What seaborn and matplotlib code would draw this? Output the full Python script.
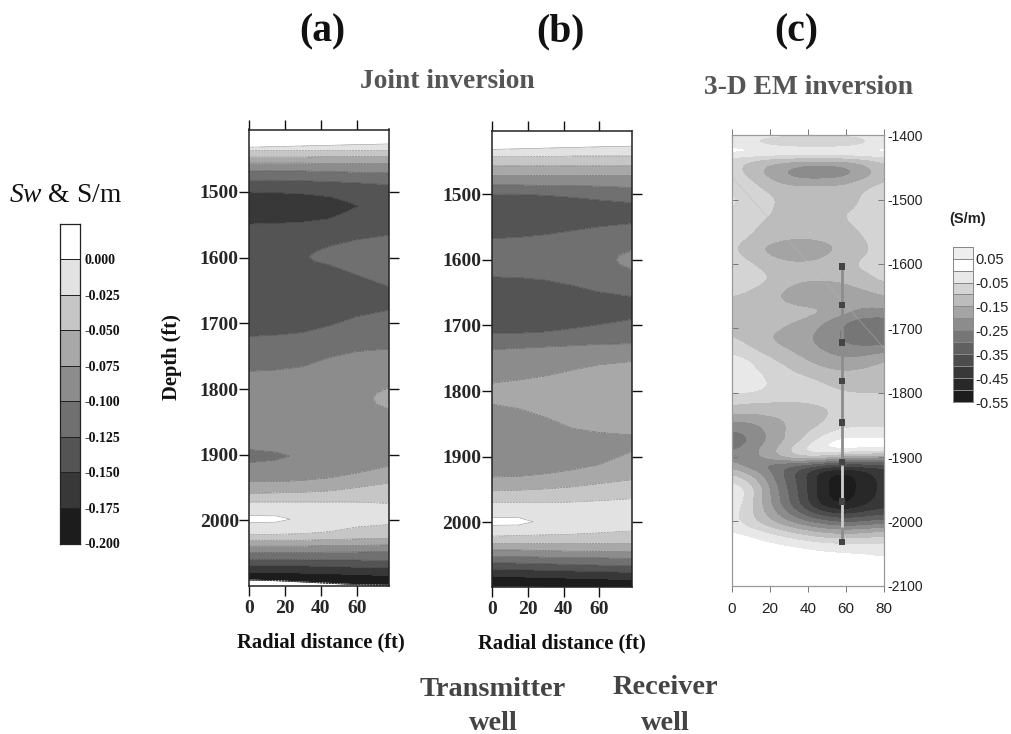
import numpy as np
import matplotlib
matplotlib.use("Agg")
import matplotlib.pyplot as plt
from matplotlib.colors import ListedColormap, BoundaryNorm
import seaborn as sns

# panels (a) and (b): each row is one horizon, depth and value per radial column
radial = [0, 15, 30, 45, 60, 78.4]

depth_a = [
    [1405, 1405, 1405, 1405, 1405, 1405],
    [1432, 1431, 1430, 1429, 1428, 1427],
    [1437, 1437, 1437, 1437, 1437, 1437],
    [1447, 1447, 1447, 1446, 1446, 1446],
    [1456, 1456, 1456, 1457, 1457, 1457],
    [1468, 1468, 1468, 1469, 1470, 1471],
    [1482, 1482, 1483, 1484, 1486, 1489],
    [1500, 1501, 1503, 1507, 1512, 1512],
    [1512, 1512, 1512, 1515, 1516, 1516],
    [1525, 1525, 1525, 1525, 1522, 1522],
    [1537, 1537, 1536, 1533, 1527, 1527],
    [1549, 1548, 1546, 1541, 1533, 1533],
    [1575, 1575, 1580, 1583, 1573, 1566],
    [1590, 1590, 1592, 1590, 1586, 1585],
    [1600, 1600, 1600, 1597, 1600, 1605],
    [1610, 1610, 1607, 1604, 1612, 1625],
    [1625, 1625, 1612, 1611, 1626, 1644],
    [1660, 1660, 1660, 1660, 1660, 1660],
    [1720, 1718, 1714, 1704, 1690, 1680],
    [1773, 1771, 1766, 1752, 1743, 1739],
    [1798, 1798, 1798, 1798, 1798, 1798],
    [1806, 1806, 1806, 1806, 1806, 1806],
    [1815, 1815, 1815, 1815, 1815, 1815],
    [1823, 1823, 1823, 1823, 1823, 1823],
    [1831, 1831, 1831, 1831, 1831, 1831],
    [1892, 1892, 1892, 1892, 1892, 1892],
    [1902, 1902, 1902, 1902, 1902, 1900],
    [1912, 1912, 1912, 1912, 1910, 1908],
    [1941, 1941, 1939, 1935, 1928, 1917],
    [1959, 1958, 1957, 1955, 1950, 1943],
    [1972, 1972, 1972, 1972, 1972, 1974],
    [1988, 1988, 1988, 1988, 1988, 1988],
    [1998, 1998, 1998, 1998, 1998, 1998],
    [2008, 2008, 2008, 2006, 2004, 2002],
    [2021, 2021, 2020, 2017, 2010, 2006],
    [2030, 2030, 2030, 2029, 2028, 2027],
    [2039, 2039, 2039, 2038, 2038, 2037],
    [2049, 2049, 2049, 2048, 2048, 2047],
    [2059, 2059, 2060, 2060, 2060, 2061],
    [2069, 2069, 2069, 2070, 2071, 2072],
    [2079, 2079, 2080, 2081, 2082, 2084],
    [2090, 2091, 2093, 2095, 2097, 2098],
    [2091, 2092, 2094, 2096, 2098, 2099],
    [2100, 2100, 2100, 2100, 2100, 2100],
]
value_a = [
    [0.01, 0.01, 0.01, 0.01, 0.01, 0.01],
    [0, 0, 0, 0, 0, 0],
    [-0.025, -0.025, -0.025, -0.025, -0.025, -0.025],
    [-0.05, -0.05, -0.05, -0.05, -0.05, -0.05],
    [-0.075, -0.075, -0.075, -0.075, -0.075, -0.075],
    [-0.1, -0.1, -0.1, -0.1, -0.1, -0.1],
    [-0.125, -0.125, -0.125, -0.125, -0.125, -0.125],
    [-0.15, -0.15, -0.15, -0.15, -0.143, -0.135],
    [-0.16, -0.16, -0.16, -0.158, -0.147, -0.135],
    [-0.168, -0.168, -0.165, -0.16, -0.151, -0.135],
    [-0.16, -0.16, -0.16, -0.158, -0.147, -0.135],
    [-0.15, -0.15, -0.15, -0.15, -0.143, -0.135],
    [-0.14, -0.14, -0.135, -0.125, -0.125, -0.125],
    [-0.14, -0.14, -0.131, -0.118, -0.114, -0.112],
    [-0.14, -0.14, -0.129, -0.112, -0.11, -0.108],
    [-0.14, -0.14, -0.131, -0.118, -0.114, -0.112],
    [-0.14, -0.14, -0.135, -0.125, -0.125, -0.125],
    [-0.14, -0.14, -0.14, -0.14, -0.14, -0.14],
    [-0.125, -0.125, -0.125, -0.125, -0.125, -0.125],
    [-0.1, -0.1, -0.1, -0.1, -0.1, -0.1],
    [-0.09, -0.09, -0.09, -0.09, -0.09, -0.075],
    [-0.09, -0.09, -0.09, -0.09, -0.089, -0.066],
    [-0.09, -0.09, -0.09, -0.09, -0.088, -0.062],
    [-0.09, -0.09, -0.09, -0.09, -0.089, -0.066],
    [-0.09, -0.09, -0.09, -0.09, -0.09, -0.075],
    [-0.1, -0.096, -0.09, -0.09, -0.09, -0.09],
    [-0.108, -0.106, -0.094, -0.09, -0.09, -0.085],
    [-0.1, -0.096, -0.09, -0.09, -0.088, -0.082],
    [-0.075, -0.075, -0.075, -0.075, -0.075, -0.075],
    [-0.05, -0.05, -0.05, -0.05, -0.05, -0.05],
    [-0.025, -0.025, -0.025, -0.025, -0.025, -0.025],
    [-0.01, -0.01, -0.012, -0.012, -0.012, -0.012],
    [0.012, 0.01, -0.009, -0.012, -0.012, -0.016],
    [-0.012, -0.012, -0.012, -0.014, -0.016, -0.02],
    [-0.025, -0.025, -0.025, -0.025, -0.025, -0.025],
    [-0.05, -0.05, -0.05, -0.05, -0.05, -0.05],
    [-0.075, -0.075, -0.075, -0.075, -0.075, -0.075],
    [-0.1, -0.1, -0.1, -0.1, -0.1, -0.1],
    [-0.125, -0.125, -0.125, -0.125, -0.125, -0.125],
    [-0.15, -0.15, -0.15, -0.15, -0.15, -0.15],
    [-0.175, -0.175, -0.175, -0.175, -0.175, -0.175],
    [-0.199, -0.199, -0.199, -0.199, -0.199, -0.199],
    [0.01, 0.01, 0.01, 0.01, 0.01, 0.01],
    [0.01, 0.01, 0.01, 0.01, 0.01, 0.01],
]

depth_b = [
    [1403, 1403, 1403, 1403, 1403, 1403],
    [1432, 1431, 1430, 1429, 1428, 1427],
    [1443, 1443, 1443, 1442, 1442, 1442],
    [1457, 1457, 1457, 1457, 1457, 1457],
    [1472, 1472, 1472, 1472, 1472, 1472],
    [1486, 1486, 1487, 1487, 1488, 1490],
    [1500, 1500, 1502, 1505, 1509, 1513],
    [1530, 1530, 1530, 1530, 1530, 1530],
    [1568, 1566, 1562, 1556, 1550, 1545],
    [1586, 1586, 1586, 1586, 1586, 1586],
    [1593, 1593, 1593, 1593, 1593, 1593],
    [1600, 1600, 1600, 1600, 1600, 1600],
    [1607, 1607, 1607, 1607, 1607, 1607],
    [1615, 1615, 1615, 1615, 1615, 1615],
    [1626, 1627, 1631, 1639, 1649, 1656],
    [1670, 1670, 1670, 1672, 1674, 1675],
    [1712, 1712, 1710, 1705, 1699, 1691],
    [1737, 1735, 1733, 1731, 1729, 1728],
    [1788, 1783, 1777, 1768, 1760, 1755],
    [1800, 1804, 1808, 1812, 1812, 1812],
    [1820, 1827, 1840, 1857, 1863, 1867],
    [1880, 1880, 1880, 1880, 1880, 1880],
    [1931, 1930, 1926, 1920, 1912, 1892],
    [1952, 1951, 1949, 1946, 1941, 1935],
    [1970, 1970, 1970, 1969, 1967, 1964],
    [1987, 1987, 1987, 1987, 1987, 1987],
    [1999, 1999, 1999, 1999, 1999, 1999],
    [2010, 2010, 2010, 2009, 2008, 2006],
    [2021, 2020, 2019, 2018, 2016, 2013],
    [2032, 2032, 2032, 2032, 2032, 2032],
    [2042, 2042, 2043, 2044, 2044, 2045],
    [2052, 2052, 2053, 2054, 2054, 2055],
    [2061, 2062, 2063, 2064, 2065, 2066],
    [2071, 2072, 2073, 2074, 2075, 2076],
    [2082, 2083, 2084, 2085, 2086, 2087],
    [2097, 2097, 2097, 2097, 2097, 2097],
    [2098, 2098, 2098, 2098, 2098, 2098],
]
value_b = [
    [0.01, 0.01, 0.01, 0.01, 0.01, 0.01],
    [0, 0, 0, 0, 0, 0],
    [-0.025, -0.025, -0.025, -0.025, -0.025, -0.025],
    [-0.05, -0.05, -0.05, -0.05, -0.05, -0.05],
    [-0.075, -0.075, -0.075, -0.075, -0.075, -0.075],
    [-0.1, -0.1, -0.1, -0.1, -0.1, -0.1],
    [-0.125, -0.125, -0.125, -0.125, -0.125, -0.125],
    [-0.14, -0.14, -0.14, -0.14, -0.14, -0.14],
    [-0.125, -0.125, -0.125, -0.125, -0.125, -0.125],
    [-0.115, -0.115, -0.115, -0.115, -0.112, -0.1],
    [-0.115, -0.115, -0.115, -0.115, -0.111, -0.093],
    [-0.115, -0.115, -0.115, -0.115, -0.111, -0.09],
    [-0.115, -0.115, -0.115, -0.115, -0.111, -0.093],
    [-0.115, -0.115, -0.115, -0.115, -0.112, -0.1],
    [-0.125, -0.125, -0.125, -0.125, -0.125, -0.125],
    [-0.14, -0.14, -0.14, -0.14, -0.14, -0.14],
    [-0.125, -0.125, -0.125, -0.125, -0.125, -0.125],
    [-0.1, -0.1, -0.1, -0.1, -0.1, -0.1],
    [-0.075, -0.075, -0.075, -0.075, -0.075, -0.075],
    [-0.065, -0.065, -0.065, -0.065, -0.065, -0.065],
    [-0.075, -0.075, -0.075, -0.075, -0.075, -0.075],
    [-0.09, -0.09, -0.09, -0.09, -0.085, -0.08],
    [-0.075, -0.075, -0.075, -0.075, -0.075, -0.075],
    [-0.05, -0.05, -0.05, -0.05, -0.05, -0.05],
    [-0.025, -0.025, -0.025, -0.025, -0.025, -0.025],
    [-0.01, -0.01, -0.012, -0.012, -0.012, -0.012],
    [0.012, 0.01, -0.009, -0.012, -0.012, -0.012],
    [-0.012, -0.012, -0.012, -0.014, -0.014, -0.014],
    [-0.025, -0.025, -0.025, -0.025, -0.025, -0.025],
    [-0.05, -0.05, -0.05, -0.05, -0.05, -0.05],
    [-0.075, -0.075, -0.075, -0.075, -0.075, -0.075],
    [-0.1, -0.1, -0.1, -0.1, -0.1, -0.1],
    [-0.125, -0.125, -0.125, -0.125, -0.125, -0.125],
    [-0.15, -0.15, -0.15, -0.15, -0.15, -0.15],
    [-0.175, -0.175, -0.175, -0.175, -0.175, -0.175],
    [-0.195, -0.195, -0.195, -0.195, -0.195, -0.195],
    [0.01, 0.008, -0.19, -0.19, -0.19, -0.19],
]

sw_levels = [-0.2, -0.175, -0.15, -0.125, -0.1, -0.075, -0.05, -0.025, 0, 0.05]
sw_colors = ["#1c1c1c", "#383838", "#545454", "#707070", "#8c8c8c",
             "#a8a8a8", "#c6c6c6", "#e2e2e2", "#ffffff"]
sw_labels = ["0.000", "-0.025", "-0.050", "-0.075", "-0.100",
             "-0.125", "-0.150", "-0.175", "-0.200"]

# panel (c): 3-D EM inversion conductivity, 10 ft across and 12.5 ft down from 1400 to 2100
em_radial = [0, 10, 20, 30, 40, 50, 60, 70, 80]
em_top, em_bottom = 1400, 2100
em_value = [
    [-0.03, -0.03, -0.03, -0.03, -0.03, -0.03, -0.03, -0.03, -0.03],
    [-0.03, -0.05, -0.09, -0.115, -0.12, -0.12, -0.115, -0.07, -0.03],
    [0.03, 0.03, 0.03, 0.03, 0.03, 0.03, 0.03, 0.03, 0.03],
    [-0.07, -0.09, -0.11, -0.12, -0.12, -0.12, -0.12, -0.1, -0.08],
    [-0.08, -0.125, -0.17, -0.2, -0.23, -0.23, -0.215, -0.17, -0.11],
    [-0.07, -0.11, -0.17, -0.21, -0.235, -0.23, -0.215, -0.17, -0.12],
    [-0.07, -0.085, -0.13, -0.16, -0.16, -0.16, -0.155, -0.12, -0.09],
    [-0.05, -0.08, -0.105, -0.125, -0.13, -0.13, -0.125, -0.095, -0.08],
    [-0.04, -0.07, -0.09, -0.12, -0.125, -0.125, -0.12, -0.09, -0.08],
    [-0.045, -0.075, -0.095, -0.12, -0.125, -0.125, -0.115, -0.085, -0.08],
    [-0.06, -0.08, -0.1, -0.12, -0.125, -0.125, -0.095, -0.08, -0.08],
    [-0.07, -0.09, -0.11, -0.125, -0.125, -0.125, -0.105, -0.085, -0.08],
    [-0.075, -0.095, -0.12, -0.13, -0.13, -0.13, -0.12, -0.09, -0.08],
    [-0.08, -0.11, -0.13, -0.15, -0.15, -0.14, -0.125, -0.1, -0.08],
    [-0.09, -0.125, -0.17, -0.19, -0.19, -0.17, -0.125, -0.105, -0.085],
    [-0.085, -0.115, -0.15, -0.175, -0.175, -0.15, -0.12, -0.1, -0.085],
    [-0.07, -0.095, -0.125, -0.14, -0.14, -0.13, -0.11, -0.09, -0.08],
    [-0.045, -0.085, -0.105, -0.125, -0.13, -0.125, -0.115, -0.1, -0.085],
    [-0.04, -0.08, -0.1, -0.13, -0.145, -0.145, -0.14, -0.115, -0.09],
    [-0.07, -0.095, -0.12, -0.155, -0.18, -0.18, -0.165, -0.14, -0.115],
    [-0.1, -0.115, -0.14, -0.165, -0.19, -0.19, -0.19, -0.18, -0.15],
    [-0.115, -0.12, -0.13, -0.15, -0.16, -0.165, -0.17, -0.19, -0.18],
    [-0.115, -0.12, -0.125, -0.13, -0.135, -0.145, -0.19, -0.22, -0.22],
    [-0.115, -0.12, -0.125, -0.14, -0.155, -0.2, -0.245, -0.27, -0.265],
    [-0.11, -0.12, -0.135, -0.16, -0.18, -0.22, -0.26, -0.295, -0.295],
    [-0.1, -0.115, -0.155, -0.165, -0.19, -0.23, -0.265, -0.295, -0.295],
    [-0.08, -0.11, -0.14, -0.165, -0.19, -0.22, -0.25, -0.26, -0.255],
    [-0.05, -0.08, -0.12, -0.14, -0.175, -0.2, -0.22, -0.22, -0.2],
    [-0.03, -0.045, -0.09, -0.12, -0.15, -0.18, -0.19, -0.18, -0.15],
    [-0.03, -0.04, -0.07, -0.1, -0.125, -0.15, -0.16, -0.15, -0.13],
    [-0.03, -0.035, -0.055, -0.085, -0.1, -0.12, -0.135, -0.125, -0.115],
    [-0.03, -0.035, -0.05, -0.07, -0.08, -0.1, -0.11, -0.105, -0.105],
    [-0.04, -0.045, -0.06, -0.075, -0.08, -0.09, -0.1, -0.1, -0.1],
    [-0.08, -0.09, -0.09, -0.095, -0.09, -0.085, -0.09, -0.095, -0.095],
    [-0.115, -0.125, -0.13, -0.13, -0.12, -0.1, -0.09, -0.09, -0.09],
    [-0.17, -0.165, -0.15, -0.145, -0.125, -0.1, -0.085, -0.08, -0.08],
    [-0.22, -0.22, -0.175, -0.145, -0.12, -0.09, -0.06, -0.06, -0.06],
    [-0.26, -0.24, -0.19, -0.14, -0.1, -0.055, -0.02, -0.03, -0.03],
    [-0.3, -0.24, -0.19, -0.14, -0.08, 0.0, 0.02, 0.025, 0.02],
    [-0.26, -0.22, -0.17, -0.1, -0.02, 0.015, 0.02, 0.01, 0.005],
    [-0.22, -0.22, -0.17, -0.12, -0.09, -0.12, -0.17, -0.18, -0.19],
    [-0.18, -0.24, -0.27, -0.3, -0.33, -0.37, -0.38, -0.38, -0.38],
    [-0.1, -0.16, -0.24, -0.33, -0.41, -0.5, -0.52, -0.47, -0.42],
    [-0.05, -0.11, -0.22, -0.32, -0.4, -0.51, -0.525, -0.48, -0.43],
    [0.0, -0.07, -0.2, -0.31, -0.4, -0.51, -0.525, -0.48, -0.43],
    [0.005, -0.08, -0.2, -0.3, -0.4, -0.51, -0.525, -0.47, -0.43],
    [-0.01, -0.09, -0.19, -0.29, -0.39, -0.48, -0.5, -0.45, -0.42],
    [-0.025, -0.09, -0.17, -0.25, -0.33, -0.39, -0.41, -0.38, -0.36],
    [-0.03, -0.08, -0.14, -0.2, -0.25, -0.29, -0.31, -0.3, -0.28],
    [-0.005, -0.04, -0.08, -0.12, -0.16, -0.19, -0.2, -0.19, -0.17],
    [0.02, 0.01, -0.02, -0.05, -0.08, -0.1, -0.11, -0.1, -0.08],
    [0.02, 0.02, 0.015, 0.005, -0.01, -0.025, -0.03, -0.03, -0.04],
    [0.02, 0.02, 0.02, 0.02, 0.015, 0.01, 0.005, 0.0, -0.01],
    [0.02, 0.02, 0.02, 0.02, 0.02, 0.02, 0.02, 0.02, 0.02],
    [0.02, 0.02, 0.02, 0.02, 0.02, 0.02, 0.02, 0.02, 0.02],
    [0.02, 0.02, 0.02, 0.02, 0.02, 0.02, 0.02, 0.02, 0.02],
    [0.02, 0.02, 0.02, 0.02, 0.02, 0.02, 0.02, 0.02, 0.02],
]
em_levels = [-0.55, -0.5, -0.45, -0.4, -0.35, -0.3, -0.25, -0.2, -0.15, -0.1, -0.05, 0, 0.05, 0.1]
em_colors = ["#1c1c1c", "#282828", "#383838", "#4c4c4c", "#606060", "#767676", "#8c8c8c",
             "#a4a4a4", "#bcbcbc", "#d4d4d4", "#e8e8e8", "#ffffff", "#eeeeee"]
em_labels = ["0.05", "-0.05", "-0.15", "-0.25", "-0.35", "-0.45", "-0.55"]

well_x = 58
well_marks = [1604, 1664, 1722, 1782, 1846, 1908, 1969, 2032]

W, H = 1012, 734
SERIF = "Liberation Serif"
SANS = "Liberation Sans"

sns.set_style("white")
plt.rcParams["font.family"] = [SERIF, "DejaVu Sans"]
plt.rcParams["mathtext.fontset"] = "custom"
plt.rcParams["mathtext.it"] = "Liberation Serif:italic"

fig = plt.figure(figsize=(W / 100, H / 100), dpi=100)


def px_axes(left, top, right, bottom):
    return fig.add_axes([left / W, 1 - bottom / H, (right - left) / W, (bottom - top) / H])


def px_text(x, y, s, **kw):
    kw.setdefault("ha", "center")
    kw.setdefault("va", "center")
    fig.text(x / W, 1 - y / H, s, **kw)


def sw_panel(box, depth, value, ylim):
    ax = px_axes(*box)
    depth = np.array(depth, dtype=float)
    value = np.array(value, dtype=float)
    xx = np.tile(radial, (depth.shape[0], 1))
    ax.contourf(xx, depth, value, levels=sw_levels, colors=sw_colors)
    ax.contour(xx, depth, value, levels=sw_levels[1:-1], colors="#303030",
               linewidths=0.4, alpha=0.55)
    ax.set_xlim(0, 78.4)
    ax.set_ylim(ylim[1], ylim[0])
    ax.set_xticks([0, 20, 40, 60])
    ax.set_yticks([1500, 1600, 1700, 1800, 1900, 2000])
    ax.tick_params(top=True, bottom=True, left=True, right=True, length=7.2, width=1,
                   color="#111111", labelsize=14, pad=0.5, direction="out")
    for lab in ax.get_xticklabels() + ax.get_yticklabels():
        lab.set_fontweight("bold")
    ax.tick_params(axis="x", pad=3)
    for sp in ax.spines.values():
        sp.set_visible(True)
        sp.set_color("#222222")
        sp.set_linewidth(1.1)
    return ax


ax_a = sw_panel((249.5, 129.5, 389.5, 586), depth_a, value_a, (1405, 2099.7))
ax_b = sw_panel((492.3, 130.7, 632.3, 586.7), depth_b, value_b, (1403.5, 2098))

# panel (c)
ax_c = px_axes(732, 135.3, 883.7, 585.7)
em_array = np.array(em_value)
em_dy = (em_bottom - em_top) / (em_array.shape[0] - 1)
em_cmap = ListedColormap(em_colors)
em_cmap.set_under(em_colors[0])
em_cmap.set_over(em_colors[-1])
ax_c.imshow(em_array, cmap=em_cmap, norm=BoundaryNorm(em_levels, em_cmap.N), aspect="auto",
            interpolation="bicubic", interpolation_stage="data",
            extent=(em_radial[0] - 5, em_radial[-1] + 5, em_bottom + em_dy / 2, em_top - em_dy / 2))
ax_c.set_xlim(0, 80)
ax_c.set_ylim(2100, 1400)
ax_c.plot([0, 80], [1465, 1730], color="#b8b8b8", lw=0.5, alpha=0.6)
ax_c.plot([well_x, well_x], [well_marks[0], 1915], color="#8c8c8c", lw=2)
ax_c.plot([well_x, well_x], [1915, 2010], color="#cfcfcf", lw=2)
ax_c.plot([well_x, well_x], [2010, well_marks[-1]], color="#8c8c8c", lw=2)
sns.scatterplot(x=[well_x] * len(well_marks), y=well_marks, ax=ax_c, marker="s", s=22,
                color="#444444", edgecolor="none", legend=False, zorder=5)
ax_c.set_xticks([0, 20, 40, 60, 80])
ax_c.set_xticklabels(["0", "20", "40", "60", "80"], family=SANS, fontsize=11, color="#222222")
ax_c.set_yticks(list(range(1400, 2101, 100)))
ax_c.set_yticklabels(["-%d" % d for d in range(1400, 2101, 100)], family=SANS, fontsize=10,
                     color="#222222")
ax_c.yaxis.tick_right()
ax_c.tick_params(axis="x", top=True, bottom=True, length=4, width=0.7, color="#777777", pad=8)
ax_c.tick_params(axis="y", left=True, right=True, length=4, width=0.7, color="#777777",
                 direction="in", pad=3)
for sp in ax_c.spines.values():
    sp.set_visible(True)
    sp.set_color("#999999")
    sp.set_linewidth(0.9)

# colour keys as one column heatmaps
ax_k1 = px_axes(60, 223.5, 80, 543.5)
sns.heatmap(np.arange(9)[::-1].reshape(-1, 1), ax=ax_k1, cmap=ListedColormap(sw_colors), cbar=False,
            linewidths=0.5, linecolor="#222222", xticklabels=False)
ax_k1.yaxis.tick_right()
ax_k1.set_yticks(np.arange(1, 10))
ax_k1.set_yticklabels(sw_labels, rotation=0, fontsize=10, fontweight="bold", color="#111111")
ax_k1.tick_params(axis="y", length=0, pad=3)
for sp in ax_k1.spines.values():
    sp.set_visible(True)
    sp.set_color("#222222")
    sp.set_linewidth(0.9)

ax_k2 = px_axes(953, 246.7, 972.7, 402)
sns.heatmap(np.arange(13)[::-1].reshape(-1, 1), ax=ax_k2, cmap=ListedColormap(em_colors), cbar=False,
            linewidths=0.6, linecolor="#888888", xticklabels=False)
ax_k2.yaxis.tick_right()
ax_k2.set_yticks(np.arange(1, 14, 2))
ax_k2.set_yticklabels(em_labels, rotation=0, family=SANS, fontsize=10.5, color="#222222")
ax_k2.tick_params(axis="y", length=0, pad=2)
for sp in ax_k2.spines.values():
    sp.set_visible(True)
    sp.set_color("#888888")
    sp.set_linewidth(0.7)

# labels
for x, s in zip([322, 560, 796], ["(a)", "(b)", "(c)"]):
    px_text(x, 32, s, fontsize=28.5, fontweight="bold", color="#111111")
px_text(447, 81, "Joint inversion", fontsize=19.8, fontweight="bold", color="#555555")
px_text(808, 88, "3-D EM inversion", fontsize=19.8, fontweight="bold", color="#555555")
px_text(66, 195, r"$\mathit{Sw}$ & S/m", fontsize=19.8, color="#111111")
px_text(172, 357, "Depth (ft)", fontsize=14.8, fontweight="bold", rotation=90, color="#111111")
px_text(321, 642, "Radial distance (ft)", fontsize=14.8, fontweight="bold", color="#111111")
px_text(562, 643, "Radial distance (ft)", fontsize=14.8, fontweight="bold", color="#111111")
px_text(493, 690, "Transmitter", fontsize=20.4, fontweight="bold", color="#444444")
px_text(493, 723, "well", fontsize=20.4, fontweight="bold", color="#444444")
px_text(665, 688, "Receiver", fontsize=20.4, fontweight="bold", color="#444444")
px_text(665, 723, "well", fontsize=20.4, fontweight="bold", color="#444444")
px_text(968, 219, "(S/m)", fontsize=10.5, fontweight="bold", family=SANS, color="#222222")

fig.savefig("out.png", dpi=100)
